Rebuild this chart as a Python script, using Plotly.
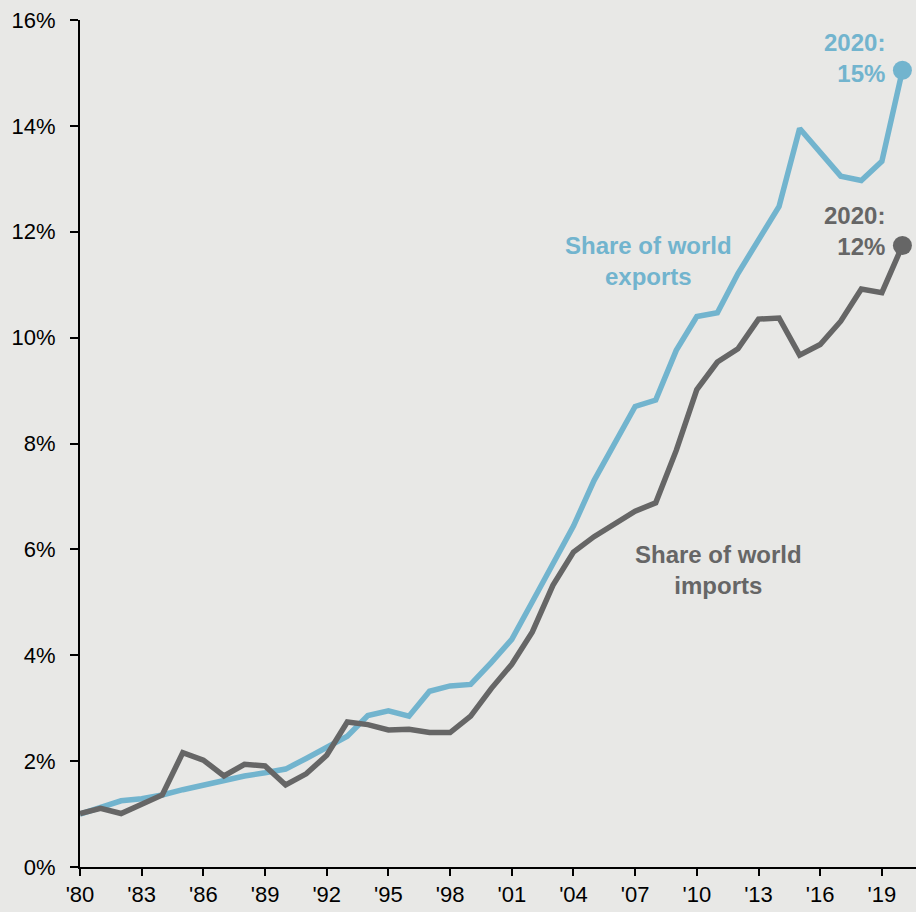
import plotly.graph_objects as go

years = list(range(1980, 2021))
exports = [1.00, 1.12, 1.25, 1.29, 1.36, 1.46, 1.55, 1.64, 1.72, 1.78,
           1.85, 2.05, 2.27, 2.47, 2.86, 2.95, 2.85, 3.32, 3.42, 3.45,
           3.86, 4.30, 5.01, 5.73, 6.44, 7.30, 8.00, 8.70, 8.82, 9.76,
           10.40, 10.47, 11.21, 11.84, 12.48, 13.95, 13.51, 13.05, 12.97, 13.33,
           15.05]
imports = [1.01, 1.11, 1.01, 1.19, 1.36, 2.16, 2.02, 1.72, 1.94, 1.91,
           1.55, 1.76, 2.11, 2.74, 2.69, 2.59, 2.60, 2.54, 2.54, 2.85,
           3.37, 3.83, 4.44, 5.32, 5.95, 6.24, 6.49, 6.72, 6.88, 7.87,
           9.02, 9.54, 9.79, 10.35, 10.37, 9.67, 9.87, 10.31, 10.92, 10.85,
           11.74]
x_tickvals = list(range(1980, 2020, 3))
x_ticktext = ["'80", "'83", "'86", "'89", "'92", "'95", "'98", "'01", "'04", "'07", "'10", "'13", "'16", "'19"]
y_tickvals = [0, 2, 4, 6, 8, 10, 12, 14, 16]
y_ticktext = ["0%", "2%", "4%", "6%", "8%", "10%", "12%", "14%", "16%"]

BLUE = "rgb(114,180,206)"
GRAY = "rgb(102,102,102)"
BG = "rgb(232,232,230)"
FONT = "Liberation Sans, Arial, sans-serif"

fig = go.Figure()
fig.add_trace(go.Scatter(x=years, y=exports, mode="lines", line=dict(color=BLUE, width=5.5),
                         cliponaxis=False, hoverinfo="skip"))
fig.add_trace(go.Scatter(x=years, y=imports, mode="lines", line=dict(color=GRAY, width=5.5),
                         cliponaxis=False, hoverinfo="skip"))
fig.add_trace(go.Scatter(x=[years[-1]], y=[exports[-1]], mode="markers",
                         marker=dict(color=BLUE, size=19), cliponaxis=False, hoverinfo="skip"))
fig.add_trace(go.Scatter(x=[years[-1]], y=[imports[-1]], mode="markers",
                         marker=dict(color=GRAY, size=19), cliponaxis=False, hoverinfo="skip"))

ann_font = dict(family=FONT, size=24)
fig.add_annotation(x=2019.24, y=15.29, xanchor="right", yanchor="middle",
                   text="<b>2020:<br>15%</b>", showarrow=False, align="right",
                   font=dict(color=BLUE, **ann_font))
fig.add_annotation(x=2019.24, y=12.01, xanchor="right", yanchor="middle",
                   text="<b>2020:<br>12%</b>", showarrow=False, align="right",
                   font=dict(color=GRAY, **ann_font))
fig.add_annotation(x=2007.66, y=11.44, text="<b>Share of world<br>exports</b>", showarrow=False,
                   align="center", font=dict(color=BLUE, **ann_font))
fig.add_annotation(x=2011.03, y=5.61, text="<b>Share of world<br>imports</b>", showarrow=False,
                   align="center", font=dict(color=GRAY, **ann_font))

fig.update_layout(
    width=916, height=912,
    margin=dict(l=80, r=0, t=20, b=45),
    paper_bgcolor=BG, plot_bgcolor=BG,
    showlegend=False,
    font=dict(family=FONT, size=22, color="black"),
    xaxis=dict(range=[1980, 2020.66], tickvals=x_tickvals, ticktext=x_ticktext,
               showgrid=False, zeroline=False, showline=True, linecolor="black", linewidth=2,
               ticks="outside", ticklen=7, tickwidth=2, tickcolor="black",
               ticklabeloverflow="allow",
               tickfont=dict(family=FONT, size=22, color="black")),
    yaxis=dict(range=[0, 16], tickvals=y_tickvals, ticktext=y_ticktext,
               showgrid=False, zeroline=False, showline=True, linecolor="black", linewidth=2,
               ticks="outside", ticklen=8, tickwidth=2, tickcolor="black",
               ticklabelstandoff=10, ticklabeloverflow="allow",
               tickfont=dict(family=FONT, size=22, color="black")),
)

fig.write_html(
    "out.html",
    config={"displayModeBar": False},
    post_script="document.body.style.margin='0';document.body.style.overflow='hidden';"
                "document.body.style.backgroundColor='rgb(232,232,230)';",
)
